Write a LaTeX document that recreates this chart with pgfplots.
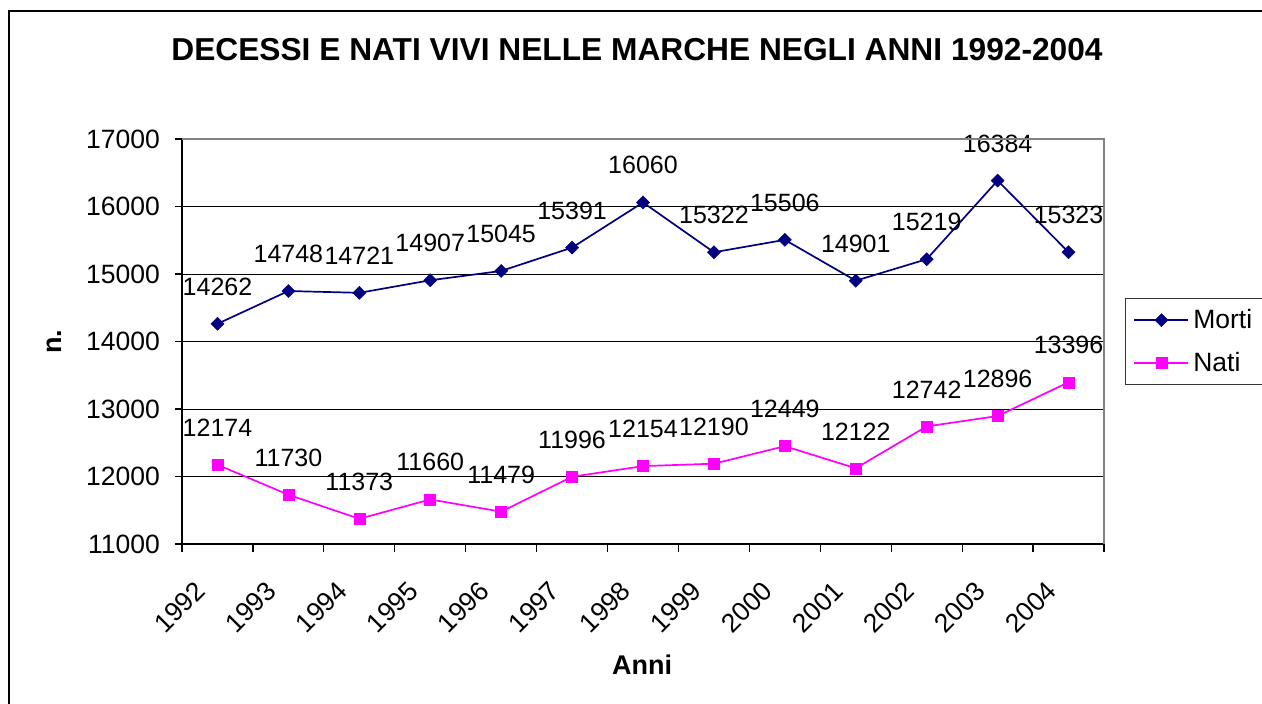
\documentclass[border=0pt]{standalone}
\usepackage{pgfplots}
\pgfplotsset{compat=1.18}
\usepackage{fontspec}
\setmainfont{Liberation Sans}
\definecolor{morti}{RGB}{0,0,128}
\definecolor{nati}{RGB}{255,0,255}
\pgfplotsset{/pgf/number format/assume math mode=true, /pgf/number format/1000 sep={}}
\begin{document}
\begin{tikzpicture}[x=1pt,y=1pt]
\path[use as bounding box] (0,0) rectangle (1262,704);
\begin{scope}
\clip (0,0) rectangle (1262,704);
\fill[white] (0,0) rectangle (1262,704);
\draw[line width=1.2pt] (9,-10) -- (9,693) -- (1280,693);
\node[font=\bfseries\fontsize{31.7}{36}\selectfont] at (637,654) {DECESSI E NATI VIVI NELLE MARCHE NEGLI ANNI 1992-2004};
\node[font=\bfseries\fontsize{27}{30}\selectfont, rotate=90] at (54,362) {n.};
\node[font=\bfseries\fontsize{27}{30}\selectfont] at (642,39) {Anni};
\begin{axis}[
  at={(182pt,160pt)}, anchor=south west, scale only axis,
  width=922pt, height=405pt, clip=false,
  xmin=-0.5, xmax=12.5, ymin=11000, ymax=17000,
  axis x line*=bottom, axis y line*=left,
  axis line style={black, line width=1.2pt, -},
  xtick={0,...,12},
  xticklabels={1992,1993,1994,1995,1996,1997,1998,1999,2000,2001,2002,2003,2004},
  minor xtick={-0.5,0.5,...,12.5},
  ytick={11000,12000,...,17000},
  scaled y ticks=false,
  tick align=outside, major tick length=7pt, minor tick length=8pt,
  major x tick style={draw=none},
  minor x tick style={black, line width=1.2pt},
  major y tick style={black, line width=1.2pt},
  ymajorgrids, major y grid style={black, line width=0.9pt},
  yticklabel style={font=\fontsize{26.5}{30}\selectfont, inner sep=0pt, xshift=-15pt},
  xticklabel style={font=\fontsize{26.5}{30}\selectfont, xshift=-17pt, yshift=-35pt, rotate=45, anchor=east, inner sep=0pt},
  nodes near coords,
  every node near coord/.append style={font=\fontsize{25}{30}\selectfont, text=black, anchor=south, inner sep=0pt, yshift=28pt},
  legend style={at={(1.0228,0.5)}, anchor=west, draw=black!80, line width=1.2pt,
    font=\fontsize{26.5}{30}\selectfont, inner xsep=8pt, inner ysep=0pt,
    nodes={inner xsep=4pt, inner ysep=11pt},
    cells={anchor=west}},
  legend image code/.code={\draw[mark repeat=2,mark phase=2,#1] plot coordinates {(0pt,0pt) (27pt,0pt) (54pt,0pt)};},
  after end axis/.code={\draw[black!50, line width=1.2pt] (rel axis cs:0,1) -- (rel axis cs:1,1) -- (rel axis cs:1,0);},
]
\addplot[color=morti, line width=1.7pt, mark=square*, mark size=4.6pt, mark options={rotate=45, solid, fill=morti, line width=0.5pt}]
  coordinates {(0,14262) (1,14748) (2,14721) (3,14907) (4,15045) (5,15391) (6,16060) (7,15322) (8,15506) (9,14901) (10,15219) (11,16384) (12,15323)};
\addlegendentry{\makebox[90pt][l]{Morti}}
\addplot[color=nati, line width=1.7pt, mark=square*, mark size=5.5pt, mark options={solid, fill=nati, line width=0.5pt}]
  coordinates {(0,12174) (1,11730) (2,11373) (3,11660) (4,11479) (5,11996) (6,12154) (7,12190) (8,12449) (9,12122) (10,12742) (11,12896) (12,13396)};
\addlegendentry{Nati}
\end{axis}
\end{scope}
\end{tikzpicture}
\end{document}
